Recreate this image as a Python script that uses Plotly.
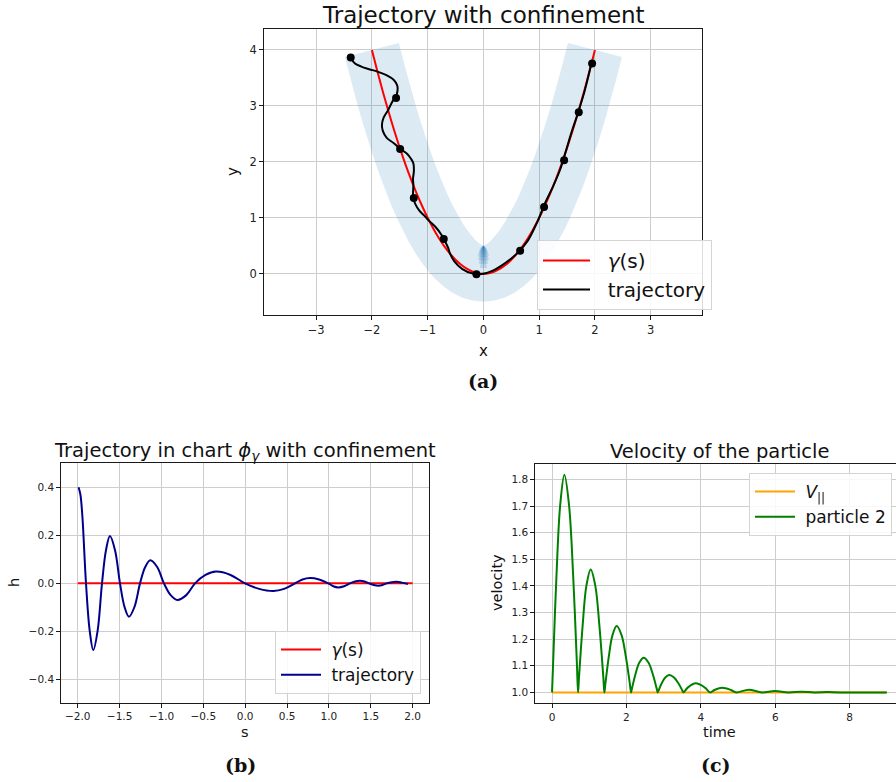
import numpy as np
import plotly.graph_objects as go

W, H = 896, 782

# ---------------- (a) curve, confinement band and trajectory ----------------
GAMMA_X = [-2.0, -1.9, -1.8, -1.7, -1.6, -1.5, -1.4, -1.3, -1.2, -1.1, -1.0,
           -0.9, -0.8, -0.7, -0.6, -0.5, -0.4, -0.3, -0.2, -0.1, 0.0,
           0.1, 0.2, 0.3, 0.4, 0.5, 0.6, 0.7, 0.8, 0.9, 1.0,
           1.1, 1.2, 1.3, 1.4, 1.5, 1.6, 1.7, 1.8, 1.9, 2.0]
GAMMA_Y = [4.0, 3.61, 3.24, 2.89, 2.56, 2.25, 1.96, 1.69, 1.44, 1.21, 1.0,
           0.81, 0.64, 0.49, 0.36, 0.25, 0.16, 0.09, 0.04, 0.01, 0.0,
           0.01, 0.04, 0.09, 0.16, 0.25, 0.36, 0.49, 0.64, 0.81, 1.0,
           1.21, 1.44, 1.69, 1.96, 2.25, 2.56, 2.89, 3.24, 3.61, 4.0]
HALF_WIDTH = 0.5

TRAJ_X = [-2.378, -2.304, -2.190, -2.049, -1.901, -1.732, -1.611, -1.546, -1.554,
          -1.642, -1.710, -1.792, -1.820, -1.803, -1.734, -1.607, -1.495, -1.370,
          -1.294, -1.257, -1.247, -1.263, -1.256, -1.262, -1.258, -1.221, -1.149,
          -1.057, -0.970, -0.855, -0.751, -0.673, -0.631, -0.599, -0.525, -0.377,
          -0.192, -0.002, 0.169, 0.318, 0.482, 0.595, 0.793, 0.939, 0.993, 1.097,
          1.251, 1.381, 1.487, 1.581, 1.690, 1.816, 1.941]
TRAJ_Y = [3.863, 3.758, 3.703, 3.657, 3.614, 3.546, 3.468, 3.365, 3.209,
          3.063, 2.924, 2.785, 2.660, 2.550, 2.430, 2.333, 2.235, 2.146,
          2.048, 1.974, 1.843, 1.692, 1.578, 1.463, 1.351, 1.245, 1.127,
          1.035, 0.941, 0.830, 0.692, 0.549, 0.456, 0.359, 0.225, 0.082,
          0.003, 0.000, 0.055, 0.140, 0.258, 0.354, 0.587, 0.867, 0.986, 1.244,
          1.565, 1.876, 2.221, 2.531, 2.856, 3.271, 3.780]
MARK_X = [-2.38, -1.567, -1.494, -1.249, -0.711, -0.125, 0.658, 1.088, 1.447, 1.71, 1.949]
MARK_Y = [3.865, 3.143, 2.231, 1.354, 0.621, -0.011, 0.412, 1.193, 2.028, 2.887, 3.757]

# ---------------- (b) trajectory in chart coordinates ----------------
CHART_S = [-1.990, -1.968, -1.945, -1.901, -1.857, -1.814, -1.762, -1.710, -1.662,
           -1.615, -1.555, -1.495, -1.441, -1.388, -1.322, -1.256, -1.194, -1.133,
           -1.051, -0.970, -0.890, -0.810, -0.704, -0.599, -0.474, -0.349, -0.175,
           -0.002, 0.167, 0.336, 0.465, 0.595, 0.684, 0.774, 0.883, 0.993, 1.052,
           1.112, 1.181, 1.251, 1.311, 1.371, 1.425, 1.480, 1.535, 1.590, 1.640,
           1.690, 1.750, 1.809, 1.870, 1.944]
CHART_H = [0.400, 0.370, 0.283, 0.0, -0.197, -0.278, -0.197, 0.0, 0.139,
           0.197, 0.139, 0.0, -0.098, -0.139, -0.098, 0.0, 0.068, 0.096,
           0.068, 0.0, -0.049, -0.069, -0.049, 0.0, 0.035, 0.049, 0.035,
           0.0, -0.023, -0.032, -0.023, 0.0, 0.016, 0.022, 0.016, 0.0, -0.012,
           -0.017, -0.012, 0.0, 0.008, 0.011, 0.008, 0.0, -0.007, -0.010, -0.007,
           0.0, 0.005, 0.007, 0.003, -0.003]
GAMMA_CHART_S = [-2.0, 2.0]
GAMMA_CHART_H = [0.0, 0.0]

# ---------------- (c) speed of the particle ----------------
TIME = [0.0, 0.027, 0.120, 0.219, 0.332, 0.457, 0.567, 0.670, 0.699,
        0.726, 0.821, 0.923, 1.039, 1.164, 1.275, 1.378, 1.407,
        1.433, 1.526, 1.625, 1.738, 1.869, 1.985, 2.093, 2.124,
        2.151, 2.246, 2.348, 2.464, 2.592, 2.705, 2.811, 2.841,
        2.866, 2.952, 3.045, 3.150, 3.279, 3.393, 3.500, 3.530,
        3.649, 3.860, 4.110, 4.250,
        4.365, 4.570, 4.810, 4.950,
        5.290, 5.640, 5.990, 6.350, 6.700, 7.050, 7.400, 7.750, 9.0]
SPEED = [1.0, 1.102, 1.441, 1.703, 1.8175, 1.703, 1.441, 1.102, 1.0,
         1.058, 1.248, 1.400, 1.462, 1.400, 1.248, 1.058, 1.0,
         1.031, 1.134, 1.215, 1.249, 1.215, 1.134, 1.031, 1.0,
         1.016, 1.070, 1.112, 1.130, 1.112, 1.070, 1.016, 1.0,
         1.008, 1.035, 1.056, 1.065, 1.056, 1.035, 1.008, 1.0,
         1.018, 1.034, 1.018, 1.0,
         1.009, 1.0175, 1.009, 1.0,
         1.010, 1.0, 1.005, 1.0, 1.0025, 1.0, 1.001, 1.0, 1.0]
V_PAR_T = [0.0, 9.0]
V_PAR = [1.0, 1.0]

FONT = "DejaVu Sans"
C0 = "31,119,180"
INK = "#111111"


def pad(n, label):
    # leading gap between legend sample and label
    return f"<span style='color:{INK}'>" + "\u00a0" * n + "</span>" + label


def fx(p):
    return p / W


def fy(p):
    return 1 - p / H


fig = go.Figure()

# confinement band: offsets of the curve along its normals
gx = np.array(GAMMA_X)
gy = np.array(GAMMA_Y)
tx = np.gradient(gx)
ty = np.gradient(gy)
tn = np.hypot(tx, ty)
nx, ny = ty / tn, -tx / tn
out_x, out_y = gx + HALF_WIDTH * nx, gy + HALF_WIDTH * ny
in_x, in_y = gx - HALF_WIDTH * nx, gy - HALF_WIDTH * ny
band_x = np.concatenate([out_x, in_x[::-1], out_x[:1]])
band_y = np.concatenate([out_y, in_y[::-1], out_y[:1]])
fig.add_trace(go.Scatter(x=band_x, y=band_y, mode="lines", fill="toself",
                         fillcolor=f"rgba({C0},0.155)", line=dict(width=0),
                         hoverinfo="skip", showlegend=False, xaxis="x", yaxis="y"))

# the normals converge at the centre of curvature of the vertex: darker fan there
i0 = int(np.argmin(gy))
cx, cy = in_x[i0], in_y[i0]
fan = [(0.4, 9), (0.33, 15), (0.27, 22), (0.21, 30), (0.16, 36),
       (0.12, 42), (0.09, 48), (0.065, 54), (0.045, 60), (0.03, 66)]
for r, half in fan:
    th = np.radians(np.linspace(-90 - half, -90 + half, 31))
    sx = np.concatenate([[cx], cx + r * np.cos(th), [cx]])
    sy = np.concatenate([[cy], cy + r * np.sin(th), [cy]])
    fig.add_trace(go.Scatter(x=sx, y=sy, mode="lines", fill="toself",
                             fillcolor=f"rgba({C0},0.19)", line=dict(width=0),
                             hoverinfo="skip", showlegend=False, xaxis="x", yaxis="y"))

fig.add_trace(go.Scatter(x=GAMMA_X, y=GAMMA_Y, mode="lines", name=pad(2, "<i>γ</i>(s)"),
                         line=dict(color="red", width=2, shape="spline"),
                         xaxis="x", yaxis="y", legend="legend"))
fig.add_trace(go.Scatter(x=TRAJ_X, y=TRAJ_Y, mode="lines", name=pad(2, "trajectory"),
                         line=dict(color="black", width=2, shape="spline"),
                         xaxis="x", yaxis="y", legend="legend"))
fig.add_trace(go.Scatter(x=MARK_X, y=MARK_Y, mode="markers", showlegend=False,
                         marker=dict(color="black", size=8),
                         xaxis="x", yaxis="y"))

# (b)
fig.add_trace(go.Scatter(x=GAMMA_CHART_S, y=GAMMA_CHART_H, mode="lines",
                         name=pad(1, "<i>γ</i>(s)"),
                         line=dict(color="red", width=2),
                         xaxis="x2", yaxis="y2", legend="legend2"))
fig.add_trace(go.Scatter(x=CHART_S, y=CHART_H, mode="lines", name=pad(1, "trajectory"),
                         line=dict(color="darkblue", width=2, shape="spline"),
                         xaxis="x2", yaxis="y2", legend="legend2"))

# (c)
fig.add_trace(go.Scatter(x=V_PAR_T, y=V_PAR, mode="lines",
                         name=pad(1, f"<i style='color:{INK}'>V</i><sub>||</sub>"),
                         line=dict(color="orange", width=2),
                         xaxis="x3", yaxis="y3", legend="legend3"))
fig.add_trace(go.Scatter(x=TIME, y=SPEED, mode="lines", name=pad(1, "particle 2"),
                         line=dict(color="green", width=2, shape="spline"),
                         xaxis="x3", yaxis="y3", legend="legend3"))


def axis(domain, rng, tickvals, fmt, size, anchor, mirror=True):
    return dict(domain=domain, range=rng, tickvals=tickvals, tickformat=fmt,
                anchor=anchor, showline=True, linecolor="#1a1a1a", linewidth=1.2,
                mirror=mirror, ticks="outside", ticklen=4, tickwidth=1,
                tickcolor="#1a1a1a", showgrid=True, gridcolor="#cdcdcd",
                gridwidth=1.2, zeroline=False,
                tickfont=dict(family=FONT, size=size, color="#222222"))


legend_common = dict(bgcolor="rgba(255,255,255,0.85)", bordercolor="#d4d4d4",
                     borderwidth=1, tracegroupgap=0)

fig.update_layout(
    width=W, height=H, margin=dict(l=0, r=0, t=0, b=0),
    paper_bgcolor="white", plot_bgcolor="white",
    font=dict(family=FONT, color=INK),
    xaxis=axis([fx(264.3), fx(702)], [-3.93, 3.92], [-3, -2, -1, 0, 1, 2, 3], "d", 11.5, "y"),
    yaxis=axis([fy(314.7), fy(29.3)], [-0.733, 4.37], [0, 1, 2, 3, 4], "d", 11.5, "x"),
    xaxis2=axis([fx(61.3), fx(429)], [-2.196, 2.195],
                [-2, -1.5, -1, -0.5, 0, 0.5, 1, 1.5, 2], ".1f", 10.5, "y2"),
    yaxis2=axis([fy(702.7), fy(463.3)], [-0.497, 0.5],
                [-0.4, -0.2, 0, 0.2, 0.4], ".1f", 10.5, "x2"),
    xaxis3=axis([fx(535.3), 1.0], [-0.45, 9.247], [0, 2, 4, 6, 8], "d", 10.5, "y3"),
    yaxis3=axis([fy(703.3), fy(463.7)], [0.959, 1.859],
                [1.0, 1.1, 1.2, 1.3, 1.4, 1.5, 1.6, 1.7, 1.8], ".1f", 10.5, "x3",
                mirror=False),
    legend=dict(x=fx(537), y=fy(240), xanchor="left", yanchor="top", itemwidth=47,
                font=dict(family=FONT, size=20, color=INK), **legend_common),
    legend2=dict(x=fx(421), y=fy(694), xanchor="right", yanchor="bottom", itemwidth=40,
                 font=dict(family=FONT, size=17, color=INK), **legend_common),
    legend3=dict(x=fx(749), y=fy(473), xanchor="left", yanchor="top", itemwidth=40,
                 font=dict(family=FONT, size=17, color=INK), **legend_common),
)

# titles, axis labels and panel captions
texts = [
    ("Trajectory with confinement", 483.2, 15, 23, 0, FONT, False),
    ("Trajectory in chart <i>ϕ</i><sub><i>γ</i></sub> with confinement", 245.2, 451, 19.5, 0, FONT, False),
    ("Velocity of the particle", 719.4, 451, 19.5, 0, FONT, False),
    ("x", 483.3, 351, 15, 0, FONT, False),
    ("y", 233, 172, 15, -90, FONT, False),
    ("s", 245.2, 732, 14.5, 0, FONT, False),
    ("h", 14, 583, 14.5, -90, FONT, False),
    ("time", 719.4, 732, 14.5, 0, FONT, False),
    ("velocity", 497, 583, 14.5, -90, FONT, False),
    ("(a)", 483.3, 381, 19, 0, "DejaVu Serif", True),
    ("(b)", 240, 765, 19, 0, "DejaVu Serif", True),
    ("(c)", 716, 765, 19, 0, "DejaVu Serif", True),
]
for txt, x, y, size, ang, fam, bold in texts:
    fig.add_annotation(text=f"<b>{txt}</b>" if bold else txt,
                       x=fx(x), y=fy(y), xref="paper", yref="paper",
                       xanchor="center", yanchor="middle", showarrow=False,
                       textangle=ang, font=dict(family=fam, size=size, color=INK))

fig.write_html("out.html")
